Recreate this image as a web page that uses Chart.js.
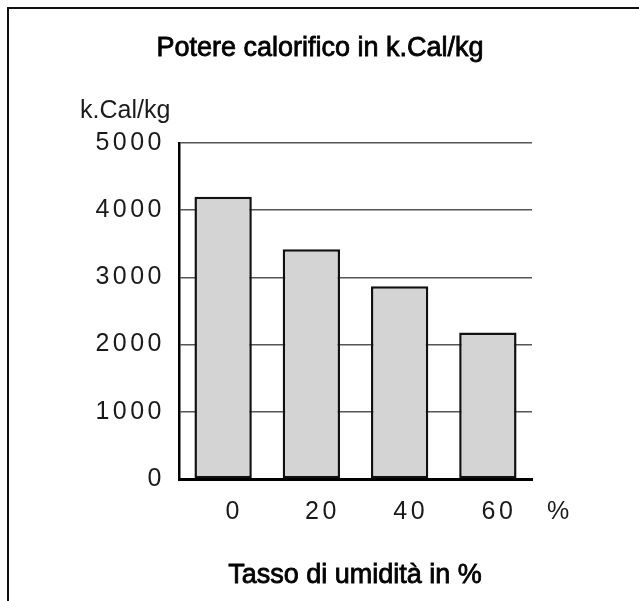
<!DOCTYPE html>
<html lang="it">
<head>
<meta charset="UTF-8" />
<title>Potere calorifico</title>
<script src="https://cdn.jsdelivr.net/npm/chart.js"></script>
<style>
  body { margin: 0; background: #fff; }
  canvas { display: block; }
</style>
</head>
<body>
<canvas id="potere" width="639" height="601"></canvas>
<script>
  // tasso di umidità (%) -> potere calorifico (k.Cal/kg)
  const umidita = ["0", "20", "40", "60"];
  const potereCalorifico = [4200, 3420, 2870, 2180];
  const yTicks = [0, 1000, 2000, 3000, 4000, 5000];

  const titolo = "Potere calorifico in k.Cal/kg";
  const unitaY = "k.Cal/kg";
  const unitaX = "%";
  const titoloX = "Tasso di umidità in %";

  const FONT = "'Liberation Sans', Arial, sans-serif";

  // cornice, titoli e unità
  const testiPlugin = {
    id: "testi",
    beforeDraw(chart) {
      // numeri degli assi un po' spaziati
      chart.ctx.letterSpacing = "3.5px";
    },
    afterDraw(chart) {
      const ctx = chart.ctx;
      ctx.save();
      ctx.letterSpacing = "0px";

      ctx.strokeStyle = "#111";
      ctx.lineWidth = 2;
      ctx.beginPath();
      ctx.moveTo(8, 601);
      ctx.lineTo(8, 8);
      ctx.lineTo(639, 8);
      ctx.stroke();

      ctx.fillStyle = "#000";
      ctx.strokeStyle = "#000";
      ctx.textBaseline = "alphabetic";

      // titoli in grassetto leggero
      ctx.textAlign = "center";
      ctx.font = "27px " + FONT;
      ctx.lineWidth = 0.8;
      ctx.fillText(titolo, 320, 56);
      ctx.strokeText(titolo, 320, 56);
      ctx.fillText(titoloX, 355, 583);
      ctx.strokeText(titoloX, 355, 583);

      ctx.textAlign = "left";
      ctx.fillStyle = "#1a1a1a";
      ctx.font = "25px " + FONT;
      ctx.fillText(unitaY, 80, 118);
      ctx.fillText(unitaX, 547, 519);
      ctx.restore();
    }
  };

  new Chart(document.getElementById("potere"), {
    type: "bar",
    data: {
      labels: umidita,
      datasets: [
        {
          data: potereCalorifico,
          backgroundColor: "#d4d4d4",
          borderColor: "#111",
          borderWidth: 2.5,
          borderSkipped: false,
          barPercentage: 0.65,
          categoryPercentage: 1,
        },
      ],
    },
    plugins: [testiPlugin],
    options: {
      responsive: false,
      animation: false,
      layout: { padding: { top: 143, right: 107, left: 0, bottom: 0 } },
      plugins: {
        legend: { display: false },
        tooltip: { enabled: false },
      },
      scales: {
        x: {
          grid: { display: false, drawTicks: false },
          border: { color: "#000", width: 3 },
          ticks: {
            color: "#1a1a1a",
            font: { family: FONT, size: 25 },
            padding: 18,
            labelOffset: 11,
          },
          afterFit(scale) {
            scale.height = 601 - 479;
          },
        },
        y: {
          min: 0,
          max: 5000,
          afterBuildTicks(scale) {
            scale.ticks = yTicks.map((v) => ({ value: v }));
          },
          grid: { color: "#555", lineWidth: 1.5, drawTicks: false },
          border: { color: "#000", width: 2.5 },
          ticks: {
            color: "#1a1a1a",
            font: { family: FONT, size: 25 },
            padding: 14,
            callback: (v) => String(v),
          },
          afterFit(scale) {
            scale.width = 179;
          },
        },
      },
    },
  });
</script>
</body>
</html>
